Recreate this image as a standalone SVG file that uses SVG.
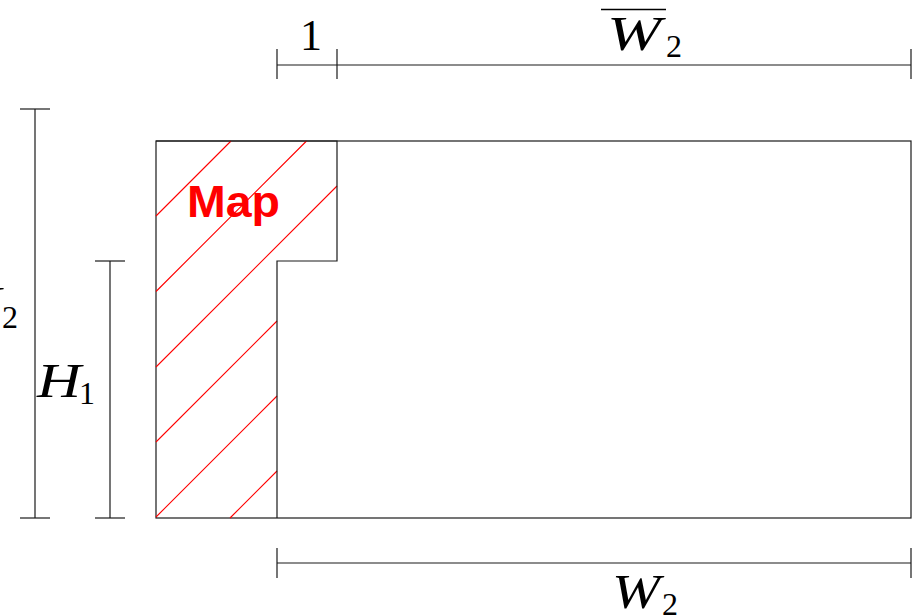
<svg xmlns="http://www.w3.org/2000/svg" width="914" height="616" viewBox="0 0 914 616">
<style>
.ln{stroke:#1a1a1a;stroke-width:1.2;fill:none}
.hatch{stroke:#ff0000;stroke-width:1.1;fill:none}
.math{font-family:"Liberation Serif","DejaVu Serif",serif;font-style:italic;fill:#000}
.num{font-family:"Liberation Serif","DejaVu Serif",serif;fill:#000}
.map{font-family:"Liberation Sans","Arial",sans-serif;font-weight:bold;fill:#ff0000}
</style>
<rect width="914" height="616" fill="#fff"/>
<g id="outer-rect">
<rect class="ln" x="156" y="141" width="755" height="377"/>
</g>
<g id="map-region">
<path class="hatch" stroke="#ff0000" d="M156,216 L231,141 M156,291.5 L306.5,141 M156,367 L337,186 M156,442 L277,321 M156,517 L277,396 M230,518 L277,471"/>
<polyline class="ln" points="156,141 337,141 337,261 277,261 277,518"/>
<text class="map" x="187" y="217" font-size="44" textLength="93" lengthAdjust="spacingAndGlyphs">Map</text>
</g>
<g id="connectors">
<g id="dim-H2">
<line class="ln" x1="35" y1="109" x2="35" y2="518"/>
<line class="ln" x1="20" y1="109" x2="50" y2="109"/>
<line class="ln" x1="20" y1="518" x2="50" y2="518"/>
</g>
<g id="dim-H1">
<line class="ln" x1="110" y1="261" x2="110" y2="518"/>
<line class="ln" x1="95" y1="261" x2="125" y2="261"/>
<line class="ln" x1="95" y1="518" x2="125" y2="518"/>
</g>
<g id="dim-top">
<line class="ln" x1="277" y1="65" x2="911" y2="65"/>
<line class="ln" x1="277" y1="49" x2="277" y2="79"/>
<line class="ln" x1="337" y1="49" x2="337" y2="79"/>
<line class="ln" x1="911" y1="49" x2="911" y2="79"/>
</g>
<g id="dim-bottom">
<line class="ln" x1="277" y1="563" x2="911" y2="563"/>
<line class="ln" x1="277" y1="548" x2="277" y2="578"/>
<line class="ln" x1="911" y1="548" x2="911" y2="578"/>
</g>
</g>
<g id="label-H2">
<text class="math" x="-43" y="320" font-size="48" textLength="44" lengthAdjust="spacingAndGlyphs">H</text>
<text class="num" x="2" y="328" font-size="32">2</text>
</g>
<g id="label-H1">
<text class="math" x="37" y="397" font-size="48" textLength="44" lengthAdjust="spacingAndGlyphs">H</text>
<text class="num" x="79" y="404" font-size="32">1</text>
</g>
<g id="label-one">
<text class="num" x="300" y="50" font-size="44">1</text>
</g>
<g id="label-W2bar">
<text class="math" x="607" y="50" font-size="48" textLength="54" lengthAdjust="spacingAndGlyphs">W</text>
<text class="num" x="666" y="57" font-size="32">2</text>
<line x1="601" y1="9.5" x2="666" y2="9.5" stroke="#000" stroke-width="1.6"/>
</g>
<g id="label-W2">
<text class="math" x="612" y="608" font-size="48" textLength="48" lengthAdjust="spacingAndGlyphs">W</text>
<text class="num" x="662" y="615" font-size="32">2</text>
</g>
</svg>
